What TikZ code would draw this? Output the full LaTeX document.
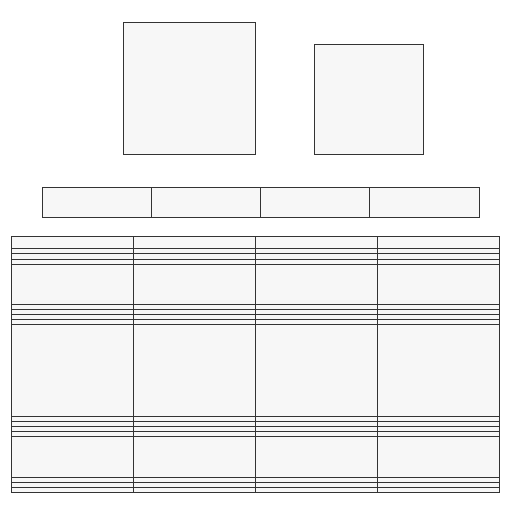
\documentclass[tikz,border=0pt]{standalone}
\begin{document}
\begin{tikzpicture}[x=1pt,y=-1pt,
  boxfill/.style={draw=black!80,fill=black!3,line width=0.9pt,inner sep=0pt,outer sep=0pt},
  rule/.style={draw=black!80,line width=0.8pt}]
\useasboundingbox (0,0) rectangle (512,512);
% top boxes
\node[boxfill,minimum width=132pt,minimum height=131.5pt] (big) at (189.5,88.25) {};
\node[boxfill,minimum width=109.5pt,minimum height=109.5pt] (small) at (368.75,99.25) {};
% bar of four cells
\node[boxfill,minimum width=109.5pt,minimum height=30.5pt] (b1) at (96.75,202.25) {};
\node[boxfill,minimum width=109pt,minimum height=30.5pt] (b2) at (206,202.25) {};
\node[boxfill,minimum width=109pt,minimum height=30.5pt] (b3) at (315,202.25) {};
\node[boxfill,minimum width=109.5pt,minimum height=30.5pt] (b4) at (424.25,202.25) {};
% table
\node[boxfill,minimum width=488pt,minimum height=256pt] (tab) at (255.5,364.75) {};
\foreach \x in {133.5,255.5,377.5}
  \draw[rule] (\x,236.75) -- (\x,492.75);
\foreach \y in {248,253.5,259,264,304,309.5,314.5,319.5,324.5,416,421,426,431,436,477,482,487.5}
  \draw[rule] (11.5,\y) -- (499.5,\y);
\end{tikzpicture}
\end{document}
